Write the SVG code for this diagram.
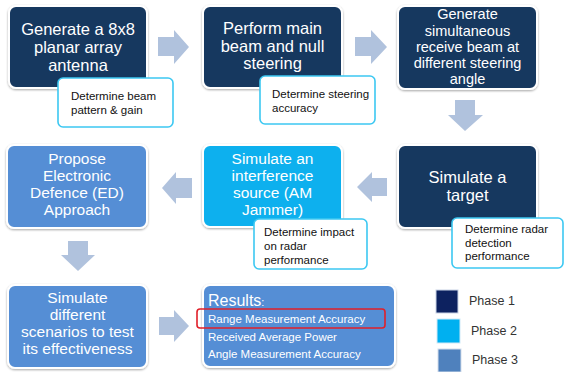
<svg xmlns="http://www.w3.org/2000/svg" width="565" height="372" viewBox="0 0 565 372">
<defs>
<filter id="sh" x="-10%" y="-10%" width="120%" height="130%">
<feDropShadow dx="0" dy="1" stdDeviation="1.3" flood-color="#000" flood-opacity="0.35"/>
</filter>
</defs>
<style>
.box{stroke:#fff;stroke-width:2;filter:url(#sh)}
.p1{fill:#17375E}
.p2{fill:#0AB0EE}
.p3{fill:#558ED5}
.bt{font-family:"Liberation Sans",Arial,sans-serif;fill:#fff;text-anchor:middle}
.co{fill:#fff;stroke:#3CC8F2;stroke-width:1.6}
.ct{font-family:"Liberation Sans",Arial,sans-serif;font-size:11.5px;fill:#111}
.ar{fill:#B0C2DD}
.lg{font-family:"Liberation Sans",Arial,sans-serif;font-size:12.5px;fill:#333}
.rt{font-family:"Liberation Sans",Arial,sans-serif;font-size:11.5px;fill:#fff}
</style>
<rect width="565" height="372" fill="#fff"/>
<g id="connectors">
<polygon class="ar" points="158,37 174,37 174,30 189,47 174,64 174,56 158,56"/>
<polygon class="ar" points="355,37 371,37 371,30 387,47 371,64 371,56 355,56"/>
<polygon class="ar" points="455,100 475,100 475,115 483,115 465,131 448,115 455,115"/>
<polygon class="ar" points="387,178 372,178 372,172 357,187 372,202 372,196 387,196"/>
<polygon class="ar" points="192,178 176,178 176,172 162,188 176,204 176,198 192,198"/>
<polygon class="ar" points="68,241 88,241 88,255 95,255 78,271 61,255 68,255"/>
<polygon class="ar" points="159,317 174,317 174,310 189,326 174,342 174,335 159,335"/>
</g>
<g id="n1">
<rect class="box p1" x="9" y="6" width="138" height="82" rx="7"/>
<text class="bt" font-size="16.5"><tspan x="78" y="35">Generate a 8x8</tspan><tspan x="78" y="53">planar array</tspan><tspan x="78" y="71">antenna</tspan></text>
</g>
<g id="c1">
<rect class="co" x="58" y="78" width="115" height="49" rx="5"/>
<text class="ct"><tspan x="71" y="100">Determine beam</tspan><tspan x="71" y="113.5">pattern &amp; gain</tspan></text>
</g>
<g id="n2">
<rect class="box p1" x="203" y="6" width="139" height="82" rx="7"/>
<text class="bt" font-size="16.5"><tspan x="272.5" y="34">Perform main</tspan><tspan x="272.5" y="52">beam and null</tspan><tspan x="272.5" y="69">steering</tspan></text>
</g>
<g id="c2">
<rect class="co" x="260" y="76" width="115" height="48" rx="5"/>
<text class="ct"><tspan x="272" y="98">Determine steering</tspan><tspan x="272" y="111.5">accuracy</tspan></text>
</g>
<g id="n3">
<rect class="box p1" x="398" y="6" width="139" height="83" rx="7"/>
<text class="bt" font-size="14.5"><tspan x="467.5" y="19">Generate</tspan><tspan x="467.5" y="35.5">simultaneous</tspan><tspan x="467.5" y="52">receive beam at</tspan><tspan x="467.5" y="68">different steering</tspan><tspan x="467.5" y="84">angle</tspan></text>
</g>
<g id="n6">
<rect class="box p1" x="398" y="145" width="139" height="83" rx="7"/>
<text class="bt" font-size="16.5"><tspan x="467.5" y="183">Simulate a</tspan><tspan x="467.5" y="201">target</tspan></text>
</g>
<g id="c6">
<rect class="co" x="452" y="218" width="111" height="50" rx="5"/>
<text class="ct"><tspan x="465" y="233">Determine radar</tspan><tspan x="465" y="246.5">detection</tspan><tspan x="465" y="260">performance</tspan></text>
</g>
<g id="n5">
<rect class="box p2" x="203" y="145" width="139" height="82" rx="7"/>
<text class="bt" font-size="15.5"><tspan x="272.5" y="164">Simulate an</tspan><tspan x="272.5" y="181">interference</tspan><tspan x="272.5" y="198">source (AM</tspan><tspan x="272.5" y="215">Jammer)</tspan></text>
</g>
<g id="c5">
<rect class="co" x="254" y="219" width="113" height="50" rx="5"/>
<text class="ct"><tspan x="264" y="236">Determine impact</tspan><tspan x="264" y="250">on radar</tspan><tspan x="264" y="264">performance</tspan></text>
</g>
<g id="n4">
<rect class="box p3" x="7" y="145" width="140" height="83" rx="7"/>
<text class="bt" font-size="15.5"><tspan x="77" y="164">Propose</tspan><tspan x="77" y="181">Electronic</tspan><tspan x="77" y="198">Defence (ED)</tspan><tspan x="77" y="215">Approach</tspan></text>
</g>
<g id="n7">
<rect class="box p3" x="8" y="285" width="139" height="83" rx="7"/>
<text class="bt" font-size="15.5"><tspan x="77.5" y="303">Simulate</tspan><tspan x="77.5" y="320">different</tspan><tspan x="77.5" y="337">scenarios to test</tspan><tspan x="77.5" y="354">its effectiveness</tspan></text>
</g>
<g id="n8">
<rect class="box p3" x="203" y="285" width="192" height="82" rx="7"/>
<text x="208" y="306" font-family="Liberation Sans, Arial, sans-serif" font-size="16" fill="#fff">Results<tspan font-size="11">:</tspan></text>
<text class="rt" x="208" y="323">Range Measurement Accuracy</text>
<text class="rt" x="208" y="341">Received Average Power</text>
<text class="rt" x="208" y="358">Angle Measurement Accuracy</text>
<rect x="197" y="309" width="188" height="19" rx="3" fill="none" stroke="#E0202A" stroke-width="1.6"/>
</g>
<g id="legend">
<rect x="436" y="290" width="22" height="23" fill="#0D2260" stroke="#C9D3E6" stroke-width="1"/>
<text class="lg" x="469" y="305">Phase 1</text>
<rect x="437" y="319" width="23" height="24" fill="#00B0F0" stroke="#CFE9F7" stroke-width="1"/>
<text class="lg" x="471" y="335">Phase 2</text>
<rect x="438" y="349" width="23" height="23" fill="#4F81BD" stroke="#D3DDEB" stroke-width="1"/>
<text class="lg" x="472" y="364">Phase 3</text>
</g>
</svg>
